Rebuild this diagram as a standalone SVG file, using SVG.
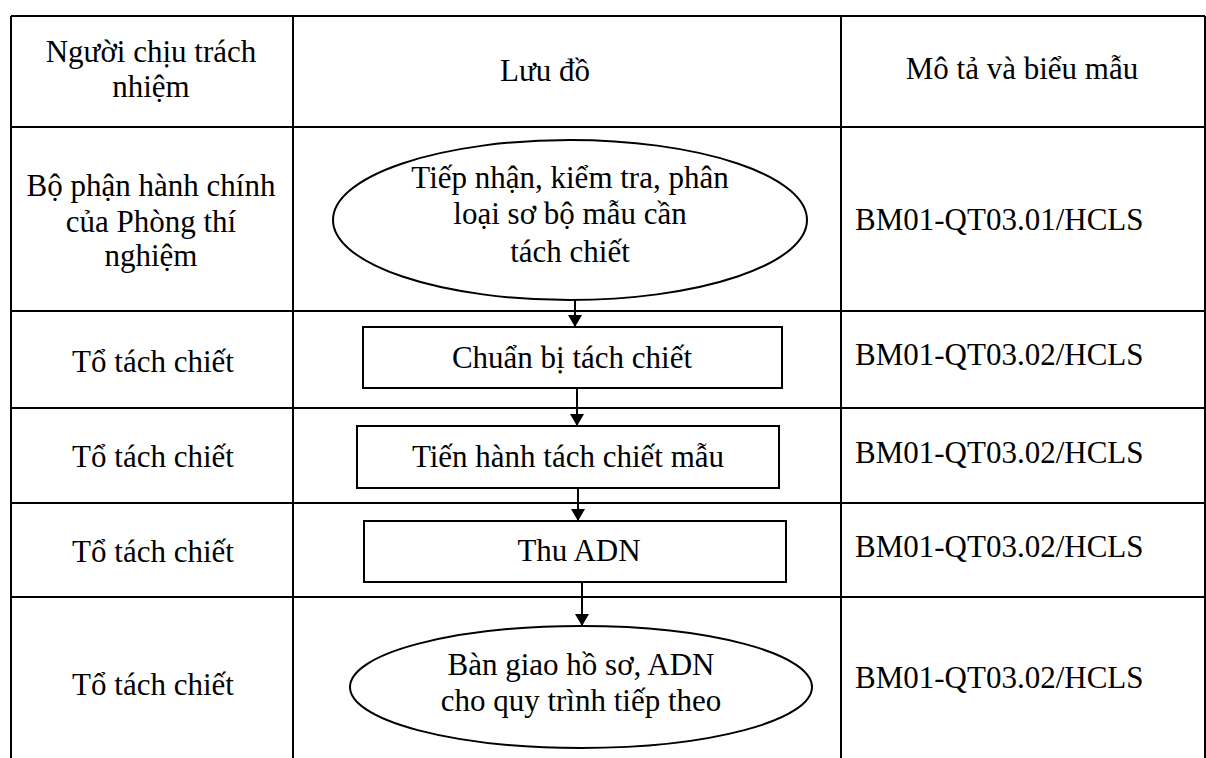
<svg xmlns="http://www.w3.org/2000/svg" width="1206" height="758" viewBox="0 0 1206 758">
<style>
.grid{stroke:#000;stroke-width:2;fill:none}
.shape{stroke:#000;stroke-width:2;fill:#fff}
.conn{stroke:#000;stroke-width:2;fill:none}
text{font-family:"Liberation Serif","Times New Roman",serif;font-size:31px;fill:#000}
.c{text-anchor:middle}
</style>
<defs>
<marker id="arr" viewBox="0 0 12 14" refX="12" refY="7" markerWidth="12" markerHeight="14" markerUnits="userSpaceOnUse" orient="auto">
<path d="M0,0 L12,7 L0,14 Z" fill="#000"/>
</marker>
</defs>
<rect width="1206" height="758" fill="#fff"/>
<g id="table">
<path class="grid" d="M11,16 H1205 M11,127 H1205 M11,311 H1205 M11,408 H1205 M11,503 H1205 M11,597 H1205 M11,16 V758 M293,16 V758 M841,16 V758 M1205,16 V758"/>
</g>
<g id="headers">
<text class="c" x="151" y="62">Người chịu trách</text>
<text class="c" x="151" y="97">nhiệm</text>
<text class="c" x="545" y="81">Lưu đồ</text>
<text class="c" x="1022" y="79">Mô tả và biểu mẫu</text>
</g>
<g id="responsible">
<text class="c" x="151" y="196">Bộ phận hành chính</text>
<text class="c" x="151" y="232">của Phòng thí</text>
<text class="c" x="151" y="266">nghiệm</text>
<text class="c" x="153" y="372">Tổ tách chiết</text>
<text class="c" x="153" y="467">Tổ tách chiết</text>
<text class="c" x="153" y="562">Tổ tách chiết</text>
<text class="c" x="153" y="695">Tổ tách chiết</text>
</g>
<g id="forms">
<text x="855" y="230">BM01-QT03.01/HCLS</text>
<text x="855" y="365">BM01-QT03.02/HCLS</text>
<text x="855" y="463">BM01-QT03.02/HCLS</text>
<text x="855" y="557">BM01-QT03.02/HCLS</text>
<text x="855" y="688">BM01-QT03.02/HCLS</text>
</g>
<g id="connectors">
<line class="conn" x1="575" y1="300" x2="575" y2="327" marker-end="url(#arr)"/>
<line class="conn" x1="577" y1="388" x2="577" y2="426" marker-end="url(#arr)"/>
<line class="conn" x1="578" y1="488" x2="578" y2="521" marker-end="url(#arr)"/>
<line class="conn" x1="582" y1="582" x2="582" y2="626" marker-end="url(#arr)"/>
</g>
<g id="n1">
<ellipse class="shape" cx="570" cy="220" rx="237" ry="80"/>
<text class="c" x="570" y="188">Tiếp nhận, kiểm tra, phân</text>
<text class="c" x="570" y="224">loại sơ bộ mẫu cần</text>
<text class="c" x="570" y="262">tách chiết</text>
</g>
<g id="n2">
<rect class="shape" x="363" y="327" width="419" height="61"/>
<text class="c" x="572" y="368">Chuẩn bị tách chiết</text>
</g>
<g id="n3">
<rect class="shape" x="357" y="426" width="422" height="62"/>
<text class="c" x="568" y="467">Tiến hành tách chiết mẫu</text>
</g>
<g id="n4">
<rect class="shape" x="364" y="521" width="422" height="61"/>
<text class="c" x="579" y="561">Thu ADN</text>
</g>
<g id="n5">
<ellipse class="shape" cx="581" cy="687" rx="231" ry="61"/>
<text class="c" x="581" y="675">Bàn giao hồ sơ, ADN</text>
<text class="c" x="581" y="711">cho quy trình tiếp theo</text>
</g>
</svg>
